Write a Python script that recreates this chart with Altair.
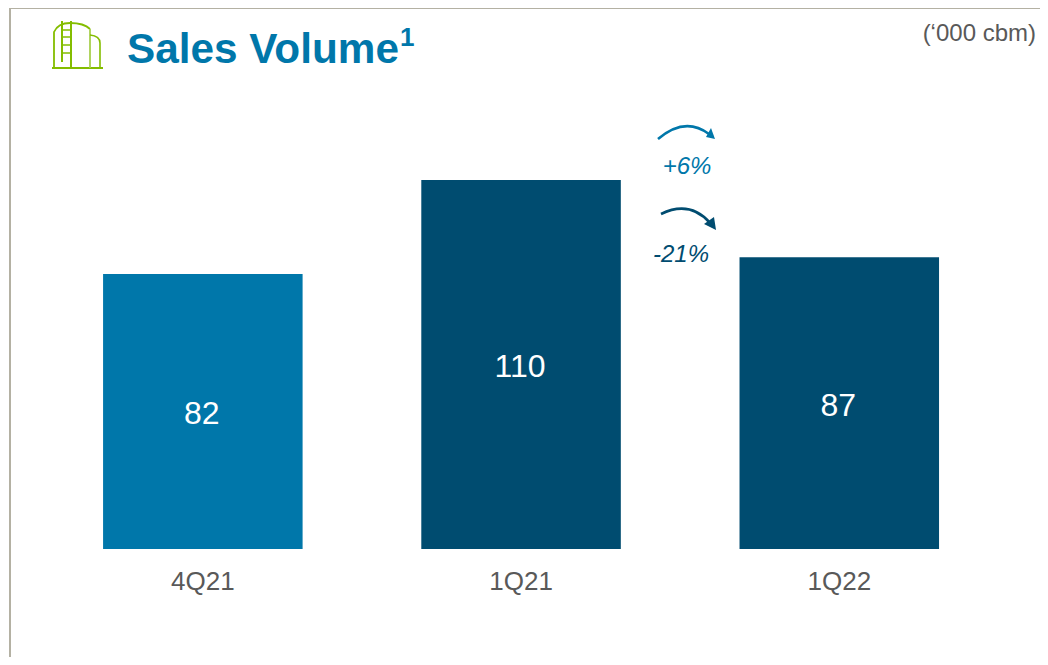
import altair as alt
import pandas as pd

quarters = ["4Q21", "1Q21", "1Q22"]
volumes = [82, 110, 87]
bar_colors = ["#0077AA", "#004C70", "#004C70"]
title_text = "Sales Volume"
footnote_mark = "1"
unit_text = "(‘000 cbm)"
change_labels = ["+6%", "-21%"]

df = pd.DataFrame({"quarter": quarters, "volume": volumes, "color": bar_colors})
df["mid"] = df["volume"] / 2

W, H = 1032, 649
LIGHT, DARK, GREY, GREEN, FRAME = "#0077AA", "#004C70", "#595959", "#84BD00", "#B4B1A3"


def shape(path, color, filled=False, sw=2.0, opacity=1):
    # path is written in chart pixels; size 4 keeps the unit scale
    kw = dict(fill=color, strokeWidth=0) if filled else dict(fill="transparent", stroke=color, strokeWidth=sw)
    return alt.Chart(df.head(1)).mark_point(shape=path, size=4, opacity=opacity, **kw).encode(
        x=alt.value(0), y=alt.value(0)
    )


def label(text, x, y, size, color, align="left", weight="normal", style="normal"):
    return alt.Chart(df.head(1)).mark_text(
        text=text, fontSize=size, color=color, align=align, baseline="middle",
        fontWeight=weight, fontStyle=style, font="Liberation Sans",
    ).encode(x=alt.value(x), y=alt.value(y))


xs = alt.Scale(domain=quarters, range=[0, W], paddingInner=0.373, paddingOuter=0.308, align=0.485)
ys = alt.Scale(domain=[-32.2, 161.27], nice=False, zero=False)

bars = alt.Chart(df).mark_bar().encode(
    x=alt.X("quarter:N", scale=xs, sort=quarters, title=None,
            axis=alt.Axis(orient="bottom", offset=-108, domain=False, ticks=False, grid=False,
                          labelAngle=0, labelFontSize=26, labelColor=GREY, labelPadding=19,
                          labelFont="Liberation Sans")),
    y=alt.Y("volume:Q", scale=ys, axis=None),
    color=alt.Color("color:N", scale=None, legend=None),
)
values = alt.Chart(df).mark_text(fontSize=32, color="white", font="Liberation Sans", baseline="middle", dy=3, dx=-1).encode(
    x=alt.X("quarter:N", scale=xs, sort=quarters),
    y=alt.Y("mid:Q", scale=ys, axis=None),
    text=alt.Text("volume:Q"),
)

frame = shape("M2,649 L2,0 L1032,0", FRAME, sw=2.0)
icon = [
    shape("M44,60 L95,60", GREEN, sw=2.2),
    shape("M46,60 L46,24 Q50,15 62,15 Q76,15 82,21", GREEN, sw=1.8),
    shape("M82,60 L82,21", "#A9D04F", sw=1.8),
    shape("M82,27 Q92,28 92,35 L92,60", GREEN, sw=1.6),
    shape("M54,13 L54,54 M63,13 L63,60", GREEN, sw=2.0),
    shape("M54,22 L63,22 M54,29 L63,29 M54,37 L63,37 M54,45 L63,45", GREEN, sw=1.6),
]
arrow_up = [
    shape("M650,131 Q677,108 701,126", LIGHT, sw=2.6),
    shape("M707,131 L698,129 L703,120 Z", LIGHT, filled=True),
]
arrow_down = [
    shape("M653,206 Q682,192 702,215", DARK, sw=2.6),
    shape("M708,222 L696,216 L706,209 Z", DARK, filled=True),
]
texts = [
    label(title_text, 119, 42, 42.3, LIGHT, weight="bold"),
    label(footnote_mark, 392, 30, 26, LIGHT, weight="bold"),
    label(unit_text, 1028, 26, 24, GREY, align="right"),
    label(change_labels[0], 679, 159, 24, LIGHT, align="center", style="italic"),
    label(change_labels[1], 673, 247, 24, DARK, align="center", style="italic"),
]

chart = alt.layer(
    bars, values, frame, *icon, *arrow_up, *arrow_down, *texts
).properties(width=W, height=H, padding=0, autosize="none", background="white").configure_view(stroke=None)

chart.save("out.html", embed_options={"renderer": "svg", "actions": False})
